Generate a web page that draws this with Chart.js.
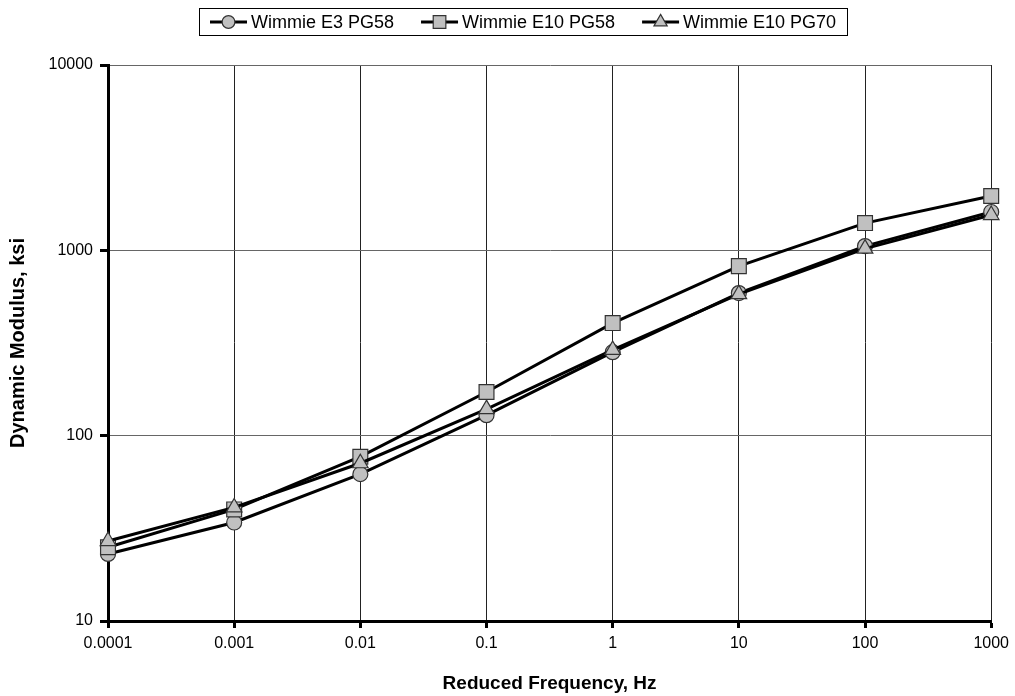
<!DOCTYPE html>
<html><head><meta charset="utf-8">
<script src="https://cdn.jsdelivr.net/npm/chart.js@4/dist/chart.umd.min.js"></script>
<style>html,body{margin:0;padding:0;background:#fff}#wrap{width:1015px;height:696px}</style>
</head><body><div id="wrap"><canvas id="c" width="1015" height="696"></canvas></div>
<script>
const frequencies = [0.0001, 0.001, 0.01, 0.1, 1, 10, 100, 1000];
const seriesNames = ['Wimmie E3 PG58', 'Wimmie E10 PG58', 'Wimmie E10 PG70'];
const e3pg58 = [23, 34, 62, 129, 282, 588, 1054, 1610];
const e10pg58 = [25, 40, 77, 172, 405, 822, 1403, 1963];
const e10pg70 = [27, 41, 71, 139, 290, 580, 1022, 1550];
const xTickValues = [0.0001, 0.001, 0.01, 0.1, 1, 10, 100, 1000];
const xTickLabels = ['0.0001', '0.001', '0.01', '0.1', '1', '10', '100', '1000'];
const yTickValues = [10, 100, 1000, 10000];
const yTickLabels = ['10', '100', '1000', '10000'];

const FONT = "'Liberation Sans', Arial, sans-serif";
const markerFill = '#c0c0c0';
const markerBorder = '#333333';
const styles = [
  {pointStyle: 'circle', radius: 7.5},
  {pointStyle: 'rect', radius: 10.5},
  {pointStyle: 'triangle', radius: 9}
];
const seriesValues = [e3pg58, e10pg58, e10pg70];

function pts(vals) { return frequencies.map((f, i) => ({x: f, y: vals[i]})); }

const datasets = seriesValues.map((vals, k) => ({
  label: seriesNames[k],
  data: pts(vals),
  showLine: true,
  borderColor: '#000',
  borderWidth: 3,
  pointStyle: styles[k].pointStyle,
  pointRadius: styles[k].radius,
  pointHoverRadius: styles[k].radius,
  pointBackgroundColor: markerFill,
  pointBorderColor: markerBorder,
  pointBorderWidth: 1.2,
  clip: false,
  order: 2 - k
}));

const legendPlugin = {
  id: 'boxLegend',
  afterDraw(chart) {
    const ctx = chart.ctx;
    ctx.save();
    const fontSize = 18;
    ctx.font = fontSize + 'px ' + FONT;
    const symW = 37, symGap = 4, itemGap = 27, padX = 11;
    const widths = seriesNames.map(n => ctx.measureText(n).width);
    let total = padX * 2;
    widths.forEach((w, i) => { total += symW + symGap + w + (i < widths.length - 1 ? itemGap : 0); });
    const cx = 523;
    const top = 8, bottom = 35;
    const left = Math.round(cx - total / 2);
    ctx.fillStyle = '#fff';
    ctx.fillRect(left, top, total, bottom - top);
    ctx.strokeStyle = '#000';
    ctx.lineWidth = 1;
    ctx.strokeRect(left + 0.5, top + 0.5, Math.round(total), bottom - top);
    let x = left + padX;
    const y = (top + bottom) / 2 + 0.5;
    seriesNames.forEach((n, i) => {
      ctx.strokeStyle = '#000';
      ctx.lineWidth = 3;
      ctx.beginPath();
      ctx.moveTo(x, y);
      ctx.lineTo(x + symW, y);
      ctx.stroke();
      ctx.fillStyle = markerFill;
      ctx.strokeStyle = markerBorder;
      ctx.lineWidth = 1.2;
      Chart.helpers.drawPoint(ctx, {pointStyle: styles[i].pointStyle, radius: styles[i].radius * 0.85, borderWidth: 1.2, rotation: 0}, x + symW / 2, y);
      x += symW + symGap;
      ctx.fillStyle = '#000';
      ctx.textBaseline = 'middle';
      ctx.textAlign = 'left';
      ctx.font = fontSize + 'px ' + FONT;
      ctx.fillText(n, x, y + 1);
      x += widths[i] + itemGap;
    });
    ctx.restore();
  }
};

new Chart(document.getElementById('c'), {
  type: 'scatter',
  data: {datasets},
  plugins: [legendPlugin],
  options: {
    responsive: false,
    devicePixelRatio: 1,
    animation: false,
    layout: {padding: {top: 65, right: 23, left: 0, bottom: 0}},
    plugins: {legend: {display: false}, tooltip: {enabled: false}},
    scales: {
      x: {
        type: 'logarithmic',
        position: 'bottom',
        min: 0.0001,
        max: 1000,
        afterBuildTicks: s => { s.ticks = xTickValues.map(v => ({value: v})); },
        afterFit: s => { s.height = 75; },
        ticks: {
          autoSkip: false, maxRotation: 0, padding: 6, color: '#000',
          font: {family: FONT, size: 16},
          callback: (v, i) => xTickLabels[i]
        },
        grid: {color: '#222', lineWidth: 1, tickLength: 7, tickColor: '#000', tickWidth: 3, drawTicks: true},
        border: {color: '#000', width: 3},
        title: {display: true, text: 'Reduced Frequency, Hz', color: '#000',
          font: {family: FONT, size: 19, weight: 'bold'}, padding: {top: 0, bottom: 1}}
      },
      y: {
        type: 'logarithmic',
        position: 'left',
        min: 10,
        max: 10000,
        afterBuildTicks: s => { s.ticks = yTickValues.map(v => ({value: v})); },
        afterFit: s => { s.width = 108; },
        ticks: {
          autoSkip: false, padding: 7, color: '#000',
          font: {family: FONT, size: 16},
          callback: (v, i) => yTickLabels[i]
        },
        grid: {color: '#666', lineWidth: 1, tickLength: 8, tickColor: '#000', tickWidth: 3, drawTicks: true},
        border: {color: '#000', width: 3},
        title: {display: true, text: 'Dynamic Modulus, ksi', color: '#000',
          font: {family: FONT, size: 20, weight: 'bold'}, padding: {top: 6, bottom: 0}}
      }
    }
  }
});
</script></body></html>
